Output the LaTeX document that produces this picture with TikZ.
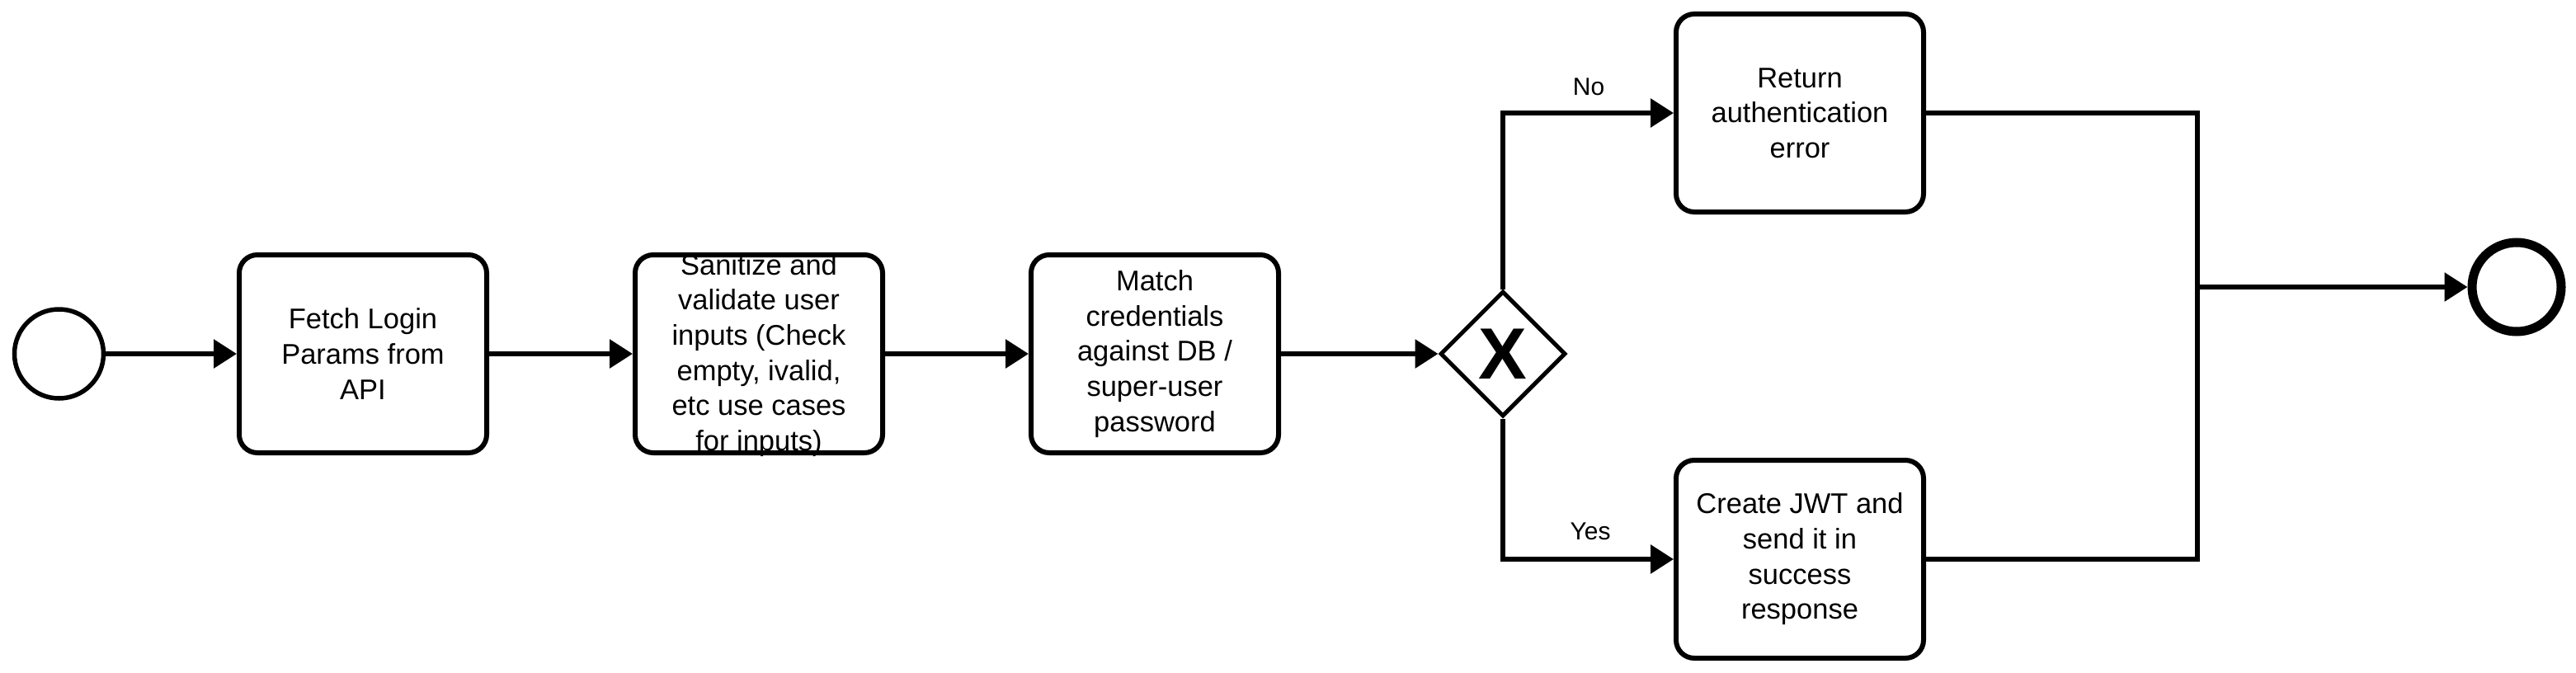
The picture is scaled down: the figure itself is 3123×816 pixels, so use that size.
\documentclass[tikz,border=0pt]{standalone}
\usepackage{fontspec}
\setmainfont{Liberation Sans}
\usetikzlibrary{arrows.meta,shapes.geometric}
\begin{document}
\begin{tikzpicture}[x=1pt,y=-1pt,
  task/.style={draw=black, line width=6pt, rounded corners=22pt, minimum width=300pt, minimum height=240pt, inner sep=0pt, align=center, font=\fontsize{34.5}{42.7}\selectfont, fill=white},
  txt/.style={align=center, inner sep=0pt, font=\fontsize{34.5}{42.7}\selectfont},
  lbl/.style={inner sep=0pt, font=\fontsize{30}{36}\selectfont},
  conn/.style={line width=6pt, -{Triangle[length=28pt,width=34pt]}},
  flow/.style={line width=6pt},
  event/.style={circle, draw=black, fill=white, minimum size=108pt, inner sep=0pt},
]
\fill[white] (0,0) rectangle (3123,816);
\useasboundingbox (0,0) rectangle (3123,816);

\node[event, line width=5.5pt] (start) at (71.5,429) {};
\node[task] (fetch) at (440,429) {Fetch Login\\Params from\\API};
\node[task] (san) at (920,429) {};
\node[txt] (sanT) at (920,431) {Sanitize and\\validate user\\inputs (Check\\empty, ivalid,\\etc use cases\\for inputs)};
\node[task] (match) at (1400,429) {Match\\credentials\\against DB /\\super-user\\password};
\node[diamond, draw=black, fill=white, line width=5pt, minimum width=152pt, minimum height=152pt, inner sep=0pt, aspect=1] (gw) at (1822,429) {};
\node[inner sep=0pt, font=\bfseries\fontsize{88}{88}\selectfont] (gx) at (1822,429) {X};
\node[task] (ret) at (2182,137) {Return\\authentication\\error};
\node[task] (create) at (2182,678) {Create JWT and\\send it in\\success\\response};
\node[event, line width=11pt] (end) at (3051,348) {};
\node[lbl] (lno) at (1926,105) {No};
\node[lbl] (lyes) at (1928,644) {Yes};
\coordinate (mj) at (2664,348);

\draw[conn] (start) -- (fetch);
\draw[conn] (fetch) -- (san);
\draw[conn] (san) -- (match);
\draw[conn] (match) -- (gw);
\draw[conn] (gw.north) |- (ret.west);
\draw[conn] (gw.south) |- (create.west);
\draw[flow] (ret.east) -| (mj);
\draw[flow] (create.east) -| (mj);
\draw[conn] (mj) -- (end);
\end{tikzpicture}
\end{document}
